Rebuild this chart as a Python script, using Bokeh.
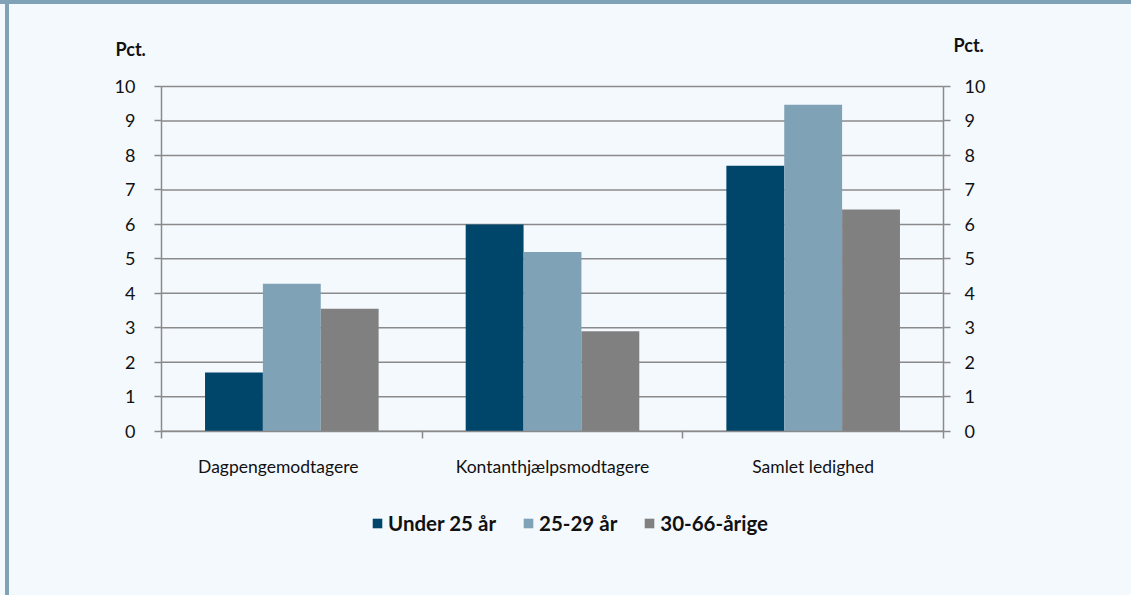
from bokeh.plotting import figure
from bokeh.models import (Range1d, LinearAxis, FixedTicker, Label,
                          Legend, LegendItem, ColumnDataSource)
from bokeh.transform import dodge
from bokeh.embed import file_html
from bokeh.resources import INLINE

categories = ["Dagpengemodtagere", "Kontanthjælpsmodtagere", "Samlet ledighed"]
series_names = ["Under 25 år", "25-29 år", "30-66-årige"]
under25 = [1.7, 6.0, 7.7]
age25_29 = [4.28, 5.2, 9.47]
age30_66 = [3.55, 2.9, 6.43]
y_ticks = [0, 1, 2, 3, 4, 5, 6, 7, 8, 9, 10]
y_label = "Pct."

colors = ["#00466b", "#7fa2b7", "#808080"]
BG = "#f4f9fe"
BAND = "#7fa2b6"
GRID = "#8a8a8a"
TEXT = "#111111"
FONT = "Lato"

n = len(categories)
centers = [i + 0.5 for i in range(n)]
bounds = list(range(n + 1))
# small horizontal nudge of the category labels, as in the original layout
label_nudge = [-0.052, 0.0, 0.0]
label_pos = [c + d for c, d in zip(centers, label_nudge)]

src = ColumnDataSource(dict(x=centers, u25=under25, a2529=age25_29, a3066=age30_66))
grid_src = ColumnDataSource(dict(y=y_ticks, x0=[0] * len(y_ticks), x1=[n] * len(y_ticks)))

# frame spans 70..1061 px horizontally, 20..545 px vertically;
# category axis runs 161..943 px, value 0 at 430.7 px and 10 at 86 px
p = figure(x_range=Range1d(-0.3491, 3.4527),
           y_range=Range1d(-3.316, 11.915),
           width=1131, height=595, output_backend="svg", toolbar_location=None,
           x_axis_location=None, y_axis_location=None,
           min_border_left=70, min_border_right=70, min_border_top=20, min_border_bottom=50)
p.background_fill_color = BG
p.border_fill_alpha = 0
p.styles = {
    "background": (f"linear-gradient({BAND}, {BAND}) 0 0 / 100% 4px no-repeat, "
                   f"linear-gradient({BAND}, {BAND}) 5px 0 / 4px 100% no-repeat, {BG}")
}
p.outline_line_color = None
p.xgrid.visible = False
p.ygrid.visible = False

# horizontal gridlines, limited to the plot area
p.segment(x0="x0", x1="x1", y0="y", y1="y", source=grid_src,
          line_color=GRID, line_width=1.5)

bw = 0.222
fields = ["u25", "a2529", "a3066"]
offsets = [-bw, 0, bw]
renderers = []
for f, off, c in zip(fields, offsets, colors):
    r = p.vbar(x=dodge("x", off), top=f, width=bw, source=src,
               fill_color=c, line_color=None)
    renderers.append(r)

def style_y(ax, standoff):
    ax.ticker = FixedTicker(ticks=y_ticks)
    ax.bounds = (0, 10)
    ax.axis_line_color = GRID
    ax.axis_line_width = 1.5
    ax.major_tick_line_color = GRID
    ax.major_tick_line_width = 1.5
    ax.major_tick_out = 7
    ax.major_tick_in = 0
    ax.minor_tick_line_color = None
    ax.major_label_text_font = FONT
    ax.major_label_text_font_size = "18px"
    ax.major_label_text_color = TEXT
    ax.major_label_standoff = standoff

yl = LinearAxis(fixed_location=0)
style_y(yl, 19)
p.add_layout(yl, "left")
yr = LinearAxis(fixed_location=n)
style_y(yr, 14)
p.add_layout(yr, "right")

xa = LinearAxis(ticker=FixedTicker(ticks=label_pos, minor_ticks=bounds), fixed_location=0)
xa.bounds = (0, n)
xa.major_label_overrides = {lp: cat for lp, cat in zip(label_pos, categories)}
xa.axis_line_color = GRID
xa.axis_line_width = 1.5
xa.major_tick_line_color = None
xa.major_tick_out = 0
xa.major_tick_in = 0
xa.minor_tick_line_color = GRID
xa.minor_tick_line_width = 1.5
xa.minor_tick_out = 7
xa.minor_tick_in = 0
xa.major_label_text_font = FONT
xa.major_label_text_font_size = "17.5px"
xa.major_label_text_color = TEXT
xa.major_label_standoff = 18
p.add_layout(xa, "below")

for xv, xo, yo in [(0, -46, 38), (n, 10, 42)]:
    p.add_layout(Label(x=xv, y=10, x_offset=xo, y_offset=yo,
                       text=y_label, text_font=FONT, text_font_style="bold",
                       text_font_size="18px", text_color=TEXT, text_baseline="middle"))

legend = Legend(items=[LegendItem(label=s, renderers=[r]) for s, r in zip(series_names, renderers)],
                orientation="horizontal", location=(301, 10),
                glyph_width=12, glyph_height=12, label_standoff=5, spacing=26,
                padding=0, margin=0, border_line_color=None, background_fill_alpha=0,
                label_text_font=FONT, label_text_font_style="bold",
                label_text_font_size="20.5px", label_text_color=TEXT)
p.add_layout(legend, "center")

open("out.html", "w").write(file_html(p, INLINE))
